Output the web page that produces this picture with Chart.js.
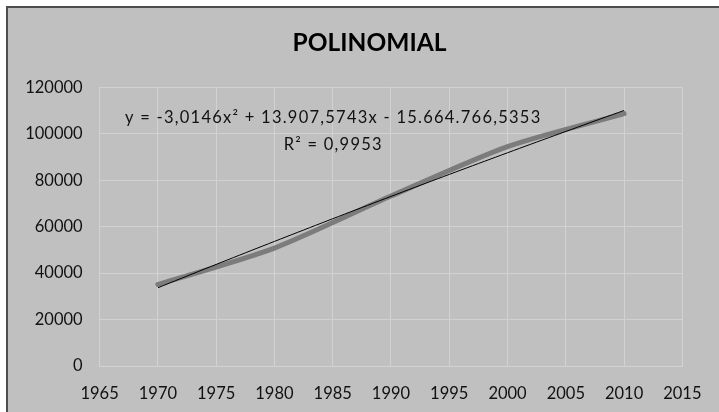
<!DOCTYPE html>
<html><head><meta charset="utf-8">
<script src="https://cdn.jsdelivr.net/npm/chart.js@4"></script>
<style>
html,body{margin:0;padding:0;background:#fff;overflow:hidden;width:719px;height:412px}
#frame{position:absolute;left:6px;top:6px;width:760px;height:460px;background:#c0c0c0;border-left:2px solid #4e4e4e;border-top:2px solid #4e4e4e}
#wrap{position:absolute;left:0;top:0;width:719px;height:412px}
</style></head><body>
<div id="frame"></div>
<div id="wrap"><canvas id="c" width="719" height="412"></canvas></div>
<script>
// ---- data ----
const years = [1970, 1980, 1990, 2000, 2010];
const values = [35100, 50800, 73200, 94500, 108700];
const xTickValues = [1965, 1970, 1975, 1980, 1985, 1990, 1995, 2000, 2005, 2010, 2015];
const yTickValues = [0, 20000, 40000, 60000, 80000, 100000, 120000];
const titleText = 'POLINOMIAL';
const trendLabel = ['y = -3,0146x\u00B2 + 13.907,5743x - 15.664.766,5353', 'R\u00B2 = 0,9953'];

// ---- polynomial (order 2) least-squares trendline fitted to the data ----
function fitQuadratic(xs, ys) {
  const x0 = xs.reduce((a, b) => a + b, 0) / xs.length;
  let S = [0, 0, 0, 0, 0], T = [0, 0, 0];
  xs.forEach((x, i) => {
    const t = x - x0;
    for (let k = 0; k < 5; k++) S[k] += Math.pow(t, k);
    for (let k = 0; k < 3; k++) T[k] += ys[i] * Math.pow(t, k);
  });
  const M = [[S[0], S[1], S[2], T[0]], [S[1], S[2], S[3], T[1]], [S[2], S[3], S[4], T[2]]];
  for (let i = 0; i < 3; i++) {
    for (let j = i + 1; j < 3; j++) {
      const f = M[j][i] / M[i][i];
      for (let k = i; k < 4; k++) M[j][k] -= f * M[i][k];
    }
  }
  const c = [0, 0, 0];
  for (let i = 2; i >= 0; i--) {
    let s = M[i][3];
    for (let k = i + 1; k < 3; k++) s -= M[i][k] * c[k];
    c[i] = s / M[i][i];
  }
  return x => { const t = x - x0; return c[0] + c[1] * t + c[2] * t * t; };
}
const trendFn = fitQuadratic(years, values);
const trendPts = [];
for (let x = years[0]; x <= years[years.length - 1]; x += 0.5) trendPts.push({ x: x, y: trendFn(x) });

const dataPts = years.map((y, i) => ({ x: y, y: values[i] }));

const FONT = 'Lato, "Open Sans", sans-serif';

// centre the title over the whole framed chart area (frame spans x 7..732)
const titleSpanPlugin = {
  id: 'titleSpan',
  afterLayout(chart) {
    if (chart.titleBlock) { chart.titleBlock.left = 7; chart.titleBlock.right = 732; chart.titleBlock.width = 725; }
  }
};

const trendLabelPlugin = {
  id: 'trendLabel',
  afterDatasetsDraw(chart) {
    const ctx = chart.ctx, xs = chart.scales.x, ys = chart.scales.y;
    ctx.save();
    ctx.fillStyle = '#111';
    ctx.font = '16.5px ' + FONT;
    ctx.textAlign = 'center';
    ctx.textBaseline = 'middle';
    if ('letterSpacing' in ctx) ctx.letterSpacing = '1.25px';
    const cx = xs.getPixelForValue(1985.05);
    ctx.fillText(trendLabel[0], cx, ys.getPixelForValue(106900));
    ctx.fillText(trendLabel[1], cx, ys.getPixelForValue(95300));
    ctx.restore();
  }
};

new Chart(document.getElementById('c'), {
  type: 'line',
  data: {
    datasets: [
      { label: 'trend', data: trendPts, borderColor: '#000', borderWidth: 1, pointRadius: 0, tension: 0, order: 0 },
      { label: 'data', data: dataPts, borderColor: '#7c7c7c', borderWidth: 5, pointRadius: 0, tension: 0.25, order: 1, borderCapStyle: 'round' }
    ]
  },
  options: {
    responsive: false,
    animation: false,
    layout: { padding: { left: 20, right: 32, top: 0, bottom: 0 } },
    plugins: {
      legend: { display: false },
      tooltip: { enabled: false },
      title: {
        display: true, text: titleText, color: '#000',
        font: { family: FONT, size: 24.5, weight: 'bold' },
        padding: { top: 28, bottom: 30 }
      }
    },
    scales: {
      x: {
        type: 'linear', min: 1965, max: 2015,
        afterBuildTicks: s => { s.ticks = xTickValues.map(v => ({ value: v })); },
        afterFit: s => { s.height = 46; },
        grid: { color: '#d2d2d2', lineWidth: 1, drawTicks: false },
        border: { color: '#d2d2d2' },
        ticks: { color: '#111', padding: 17.5, font: { family: FONT, size: 16.5 }, maxRotation: 0, callback: v => String(v) }
      },
      y: {
        min: 0, max: 120000,
        afterBuildTicks: s => { s.ticks = yTickValues.map(v => ({ value: v })); },
        afterFit: s => { s.width = 79.6; },
        grid: { color: '#d2d2d2', lineWidth: 1, drawTicks: false },
        border: { color: '#d2d2d2' },
        ticks: { color: '#111', padding: 17, font: { family: FONT, size: 16.5 }, callback: v => String(v) }
      }
    }
  },
  plugins: [titleSpanPlugin, trendLabelPlugin]
});
</script>
</body></html>
